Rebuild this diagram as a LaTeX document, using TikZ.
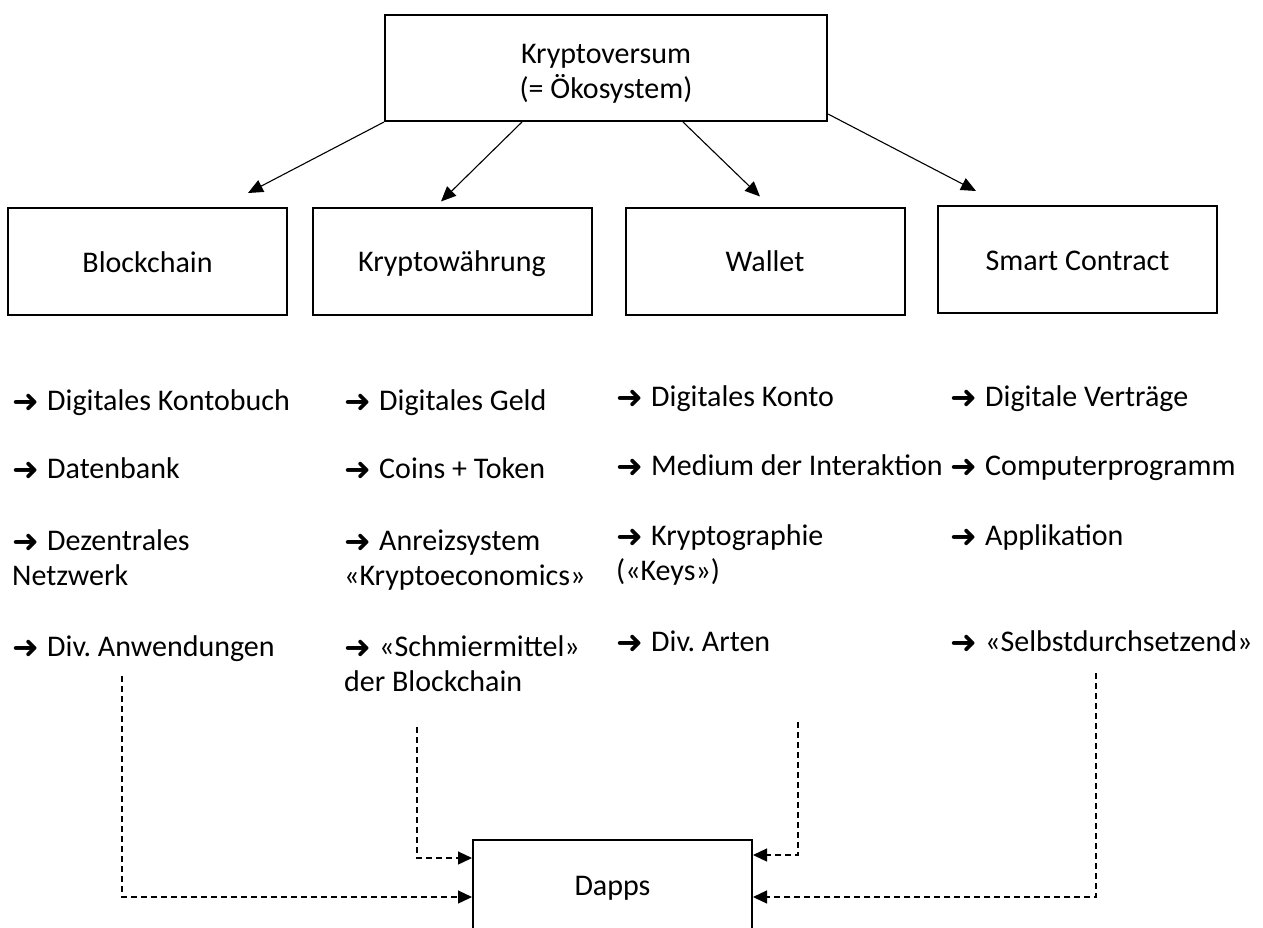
\documentclass[tikz,border=0pt]{standalone}
\usepackage{fontspec}
\usepackage{graphicx}
\setmainfont{Carlito}
\newfontfamily\arrowfont{DejaVu Sans}
\usetikzlibrary{arrows.meta}
\frenchspacing
\newcommand\rarr{\makebox[35pt][l]{\raisebox{-2pt}{\arrowfont\fontsize{32}{32}\selectfont ➜}}}
\newcommand\twolines[1]{\begin{tabular}[t]{@{}l@{}}#1\end{tabular}}
\begin{document}
\begin{tikzpicture}[x=1pt,y=-1pt,
  every node/.style={font=\fontsize{30}{35}\selectfont},
  frame/.style={draw, line width=2pt, inner sep=0pt},
  box/.style={frame, minimum width=279pt, minimum height=107pt, text height=21pt, text depth=0pt},
  item/.style={anchor=base west, inner sep=0pt},
  conn/.style={line width=1.1pt, -{Triangle[length=15pt,width=13pt]}},
  dconn/.style={line width=1.3pt, dash pattern=on 6pt off 4pt, -{Triangle[length=14pt,width=13pt]}}]
\useasboundingbox (0,0) rectangle (1263,927);

% main boxes
\node[frame, minimum width=442pt, minimum height=106pt, align=center] (top) at (606,68) {\rule{0pt}{30pt}Kryptoversum\\(= Ökosystem)};
\node[box] (bc) at (147.5,261.5) {Blockchain};
\node[box] (kw) at (452,261) {Kryptowährung};
\node[box] (wa) at (765,261) {Wallet};
\node[box] (sc) at (1077.5,259.5) {Smart Contract};
\node[box, minimum height=90pt] (da) at (612.5,885) {Dapps};

% arrows from top
\draw[conn] (top.south west) -- ([xshift=100.5pt,yshift=14pt]bc.north);
\draw[conn] ([xshift=-84pt]top.south) -- ([xshift=-11pt,yshift=5pt]kw.north);
\draw[conn] ([xshift=77pt]top.south) -- ([xshift=-5pt,yshift=10pt]wa.north);
\draw[conn] ([yshift=8pt]top.south east) -- ([xshift=-101.5pt,yshift=14pt]sc.north);

% column 1
\node[item] (b1) at (12,410) {\rarr Digitales Kontobuch};
\node[item] (b2) at (12,478) {\rarr Datenbank};
\node[item] (b3) at (12,550) {\twolines{\rarr Dezentrales\\Netzwerk}};
\node[item] (b4) at (12,656) {\rarr Div. Anwendungen};
% column 2
\node[item] (k1) at (344,410) {\rarr Digitales Geld};
\node[item] (k2) at (344,478) {\rarr Coins + Token};
\node[item] (k3) at (344,550) {\twolines{\rarr Anreizsystem\\«Kryptoeconomics»}};
\node[item] (k4) at (344,656) {\twolines{\rarr «Schmiermittel»\\der Blockchain}};
% column 3
\node[item] (w1) at (616,406) {\rarr Digitales Konto};
\node[item] (w2) at (616,475) {\rarr Medium der Interaktion};
\node[item] (w3) at (616,545) {\twolines{\rarr Kryptographie\\(«Keys»)}};
\node[item] (w4) at (616,651) {\rarr Div. Arten};
% column 4
\node[item] (s1) at (950,406) {\rarr Digitale Verträge};
\node[item] (s2) at (950,475) {\rarr Computerprogramm};
\node[item] (s3) at (950,545) {\rarr Applikation};
\node[item] (s4) at (950,651) {\rarr «Selbstdurchsetzend»};

% dashed connectors to Dapps
\coordinate (d1) at (122,676);
\coordinate (d2) at (417,727);
\coordinate (d3) at (798,722);
\coordinate (d4) at (1096,673);
\draw[dconn] (d1) |- ([yshift=-12pt]da.west);
\draw[dconn] (d2) |- ([yshift=27pt]da.west);
\draw[dconn] (d3) |- ([yshift=30pt]da.east);
\draw[dconn] (d4) |- ([yshift=-12pt]da.east);
\end{tikzpicture}
\end{document}
